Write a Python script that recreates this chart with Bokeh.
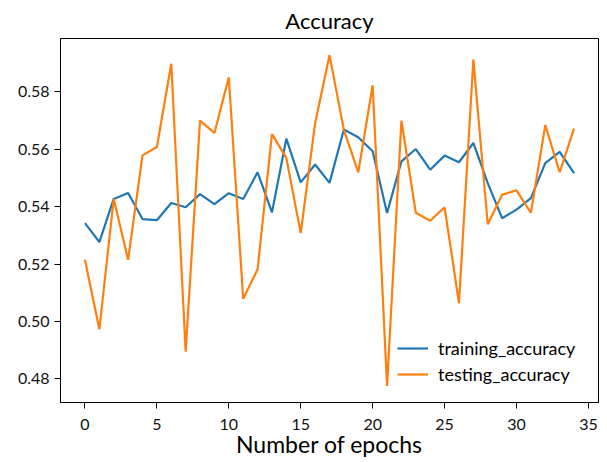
from bokeh.plotting import figure
from bokeh.models import FixedTicker, PrintfTickFormatter, Range1d, Legend, LegendItem
from bokeh.embed import file_html
from bokeh.resources import INLINE

epochs = list(range(35))
training_accuracy = [
    0.5343, 0.5277, 0.5427, 0.5448, 0.5357, 0.5353, 0.5413, 0.5398, 0.5444, 0.5409,
    0.5447, 0.5427, 0.5520, 0.5380, 0.5637, 0.5485, 0.5547, 0.5483, 0.5669, 0.5642,
    0.5593, 0.5378, 0.5558, 0.5601, 0.5529, 0.5578, 0.5555, 0.5622, 0.5482, 0.5360,
    0.5390, 0.5430, 0.5552, 0.5591, 0.5517,
]
testing_accuracy = [
    0.5215, 0.4973, 0.5427, 0.5215, 0.5579, 0.5608, 0.5898, 0.4895, 0.5700, 0.5657,
    0.5851, 0.5079, 0.5182, 0.5653, 0.5570, 0.5308, 0.5691, 0.5928, 0.5668, 0.5520,
    0.5823, 0.4776, 0.5700, 0.5379, 0.5351, 0.5398, 0.5064, 0.5913, 0.5339, 0.5442,
    0.5457, 0.5379, 0.5684, 0.5520, 0.5672,
]
x_ticks = [0, 5, 10, 15, 20, 25, 30, 35]
y_ticks = [0.48, 0.50, 0.52, 0.54, 0.56, 0.58]
title_text = "Accuracy"

FONT = "Lato"

p = figure(width=599, height=462, output_backend="svg", toolbar_location=None,
           x_range=Range1d(-1.7, 35.7), y_range=Range1d(0.4718, 0.5986),
           min_border_left=60, min_border_right=1, min_border_top=38, min_border_bottom=60,
           title=title_text)

p.title.align = "center"
p.title.text_font = FONT
p.title.text_font_size = "22px"
p.title.text_font_style = "normal"
p.title.text_color = "#000000"
p.title.standoff = 9

l1 = p.line(epochs, training_accuracy, line_color="#1f77b4", line_width=2.2)
l2 = p.line(epochs, testing_accuracy, line_color="#ff7f0e", line_width=2.2)

p.xgrid.visible = False
p.ygrid.visible = False
p.outline_line_color = "#000000"
p.outline_line_width = 1
p.outline_line_alpha = 1

for ax in (p.xaxis[0], p.yaxis[0]):
    ax.axis_line_color = "#000000"
    ax.major_tick_line_color = "#000000"
    ax.minor_tick_line_color = None
    ax.major_tick_in = 0
    ax.major_tick_out = 6
    ax.major_label_text_font = FONT
    ax.major_label_text_font_size = "16px"
    ax.major_label_text_color = "#111111"

p.xaxis.ticker = FixedTicker(ticks=x_ticks)
p.yaxis.ticker = FixedTicker(ticks=y_ticks)
p.yaxis.formatter = PrintfTickFormatter(format="%.2f")
p.xaxis.major_label_standoff = 10
p.yaxis.major_label_standoff = 5

p.xaxis.axis_label = "Number of epochs"
p.xaxis.axis_label_text_font = FONT
p.xaxis.axis_label_text_font_size = "23px"
p.xaxis.axis_label_text_font_style = "normal"
p.xaxis.axis_label_text_color = "#000000"
p.xaxis.axis_label_standoff = -3

legend = Legend(items=[LegendItem(label="training_accuracy", renderers=[l1]),
                       LegendItem(label="testing_accuracy", renderers=[l2])],
                location=(337, 17))
legend.padding = 0
legend.spacing = 4
legend.glyph_width = 31
legend.glyph_height = 22
legend.label_height = 22
legend.label_standoff = 10
legend.label_text_font = FONT
legend.label_text_font_size = "18px"
legend.label_text_color = "#000000"
legend.border_line_alpha = 0
legend.background_fill_alpha = 0
p.add_layout(legend, "center")

open("out.html", "w").write(file_html(p, INLINE))
